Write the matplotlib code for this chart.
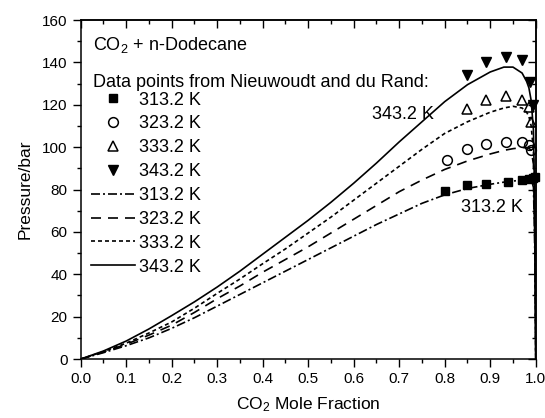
import matplotlib
matplotlib.use("Agg")
import matplotlib.pyplot as plt
from matplotlib.lines import Line2D
from matplotlib.ticker import MultipleLocator, FormatStrFormatter

plt.rcParams['font.family'] = ['Liberation Sans', 'DejaVu Sans']
plt.rcParams['mathtext.fontset'] = 'custom'
plt.rcParams['mathtext.rm'] = 'Liberation Sans'
plt.rcParams['mathtext.default'] = 'regular'

# model curves (CO2 mole fraction vs pressure / bar)
x_model = [0.0, 0.05, 0.1, 0.15, 0.2, 0.25, 0.3, 0.35, 0.4, 0.45, 0.5, 0.55, 0.6, 0.65,
           0.7, 0.75, 0.8, 0.85, 0.9, 0.93, 0.95, 0.97, 0.98, 0.985, 0.99, 0.995, 0.998, 1.0]
p_313 = [0, 3, 6.3, 10, 14.5, 19.5, 25, 30.5, 36, 41.5, 47, 52.5, 58, 63.5,
         68.5, 73.5, 77.5, 80.5, 82.5, 83.5, 84, 84.5, 85, 85, 85, 81, 50, 0]
p_323 = [0, 3.3, 7, 11.3, 16, 22, 28.5, 34.5, 41, 47, 53, 59.5, 66, 72.5,
         79, 84.5, 89.5, 93.5, 96.8, 98.5, 99.3, 99.8, 99.8, 99.5, 98.5, 92, 55, 0]
p_333 = [0, 3.5, 7.5, 12.3, 17.5, 24, 31, 37.8, 45, 52, 59.5, 67, 75, 83,
         91, 99, 106.5, 112, 116.5, 118.5, 119.3, 118.5, 116.5, 114.5, 110, 98, 62, 0]
p_343 = [0, 3.8, 8.5, 14.2, 20.5, 27, 34, 41.5, 49.5, 57.5, 65.5, 74, 83, 92.5,
         102.5, 112, 121.5, 129.5, 135.5, 137.8, 137.8, 135, 131, 128, 122, 108, 70, 0]

# data points from Nieuwoudt and du Rand
x_d313 = [0.80, 0.85, 0.89, 0.94, 0.97, 0.985, 0.993, 0.998]
y_d313 = [79.5, 82, 82.5, 83.5, 84.5, 85, 85.5, 86]
x_d323 = [0.805, 0.85, 0.89, 0.935, 0.97, 0.985, 0.99]
y_d323 = [94, 99, 101.5, 102.5, 102.5, 101, 98.5]
x_d333 = [0.85, 0.89, 0.935, 0.97, 0.985, 0.99]
y_d333 = [118, 122.5, 124, 122.5, 119, 112]
x_d343 = [0.85, 0.89, 0.935, 0.97, 0.988, 0.993]
y_d343 = [134, 140, 142.5, 141, 131, 120]

temps = ['313.2 K', '323.2 K', '333.2 K', '343.2 K']

fig = plt.figure(figsize=(5.45, 4.18), dpi=100)
ax = fig.add_axes([0.148, 0.141, 0.835, 0.811])

lw = 1.2
dash_dot = (5.4, 1.8, 1.2, 1.8)
dashed = (6, 4.2)
dotted = (2.4, 1.8)

l313, = ax.plot(x_model, p_313, color='k', lw=lw, dashes=dash_dot)
l323, = ax.plot(x_model, p_323, color='k', lw=lw, dashes=dashed)
l333, = ax.plot(x_model, p_333, color='k', lw=lw, dashes=dotted)
l343, = ax.plot(x_model, p_343, color='k', lw=lw, ls='-')

ax.plot(x_d313, y_d313, 's', color='k', ms=6, clip_on=False)
ax.plot(x_d323, y_d323, 'o', mfc='none', mec='k', ms=7, mew=1.1, clip_on=False)
ax.plot(x_d333, y_d333, '^', mfc='none', mec='k', ms=7, mew=1.1, clip_on=False)
ax.plot(x_d343, y_d343, 'v', color='k', ms=7, clip_on=False)

h_pts = [
    Line2D([], [], marker='s', ls='none', color='k', ms=6),
    Line2D([], [], marker='o', ls='none', mfc='none', mec='k', ms=7, mew=1.1),
    Line2D([], [], marker='^', ls='none', mfc='none', mec='k', ms=7, mew=1.1),
    Line2D([], [], marker='v', ls='none', color='k', ms=7),
]
handles = h_pts + [l313, l323, l333, l343]
labels = temps + temps
ax.legend(handles, labels, loc='upper left', bbox_to_anchor=(0.0226, 0.789),
          frameon=False, fontsize=13, borderpad=0, borderaxespad=0,
          handlelength=2.45, handletextpad=0.22, labelspacing=0.38, numpoints=1)

ax.text(0.027, 0.926, 'CO$_2$ + n-Dodecane', transform=ax.transAxes,
        fontsize=13, va='center', ha='left')
ax.text(0.027, 0.817, 'Data points from Nieuwoudt and du Rand:', transform=ax.transAxes,
        fontsize=13, va='center', ha='left')
ax.text(0.708, 115.4, '343.2 K', fontsize=13, ha='center', va='center')
ax.text(0.904, 71.4, '313.2 K', fontsize=13, ha='center', va='center')

ax.set_xlim(0, 1.0)
ax.set_ylim(0, 160)
ax.xaxis.set_major_locator(MultipleLocator(0.1))
ax.xaxis.set_minor_locator(MultipleLocator(0.05))
ax.yaxis.set_major_locator(MultipleLocator(20))
ax.yaxis.set_minor_locator(MultipleLocator(10))
ax.xaxis.set_major_formatter(FormatStrFormatter('%.1f'))
ax.tick_params(which='major', direction='out', length=5.8, width=1, labelsize=11)
ax.tick_params(which='minor', direction='out', length=2.9, width=1)

# mirrored ticks on top and right, pointing in
top = ax.secondary_xaxis('top')
top.xaxis.set_major_locator(MultipleLocator(0.1))
top.xaxis.set_minor_locator(MultipleLocator(0.05))
top.tick_params(which='major', direction='in', length=5.8, width=1, labeltop=False)
top.tick_params(which='minor', direction='in', length=2.9, width=1)
right = ax.secondary_yaxis('right')
right.yaxis.set_major_locator(MultipleLocator(20))
right.yaxis.set_minor_locator(MultipleLocator(10))
right.tick_params(which='major', direction='in', length=5.8, width=1, labelright=False)
right.tick_params(which='minor', direction='in', length=2.9, width=1)

for s in ax.spines.values():
    s.set_linewidth(1.1)
top.spines['top'].set_linewidth(1.1)
right.spines['right'].set_linewidth(1.1)

ax.set_xlabel('CO$_2$ Mole Fraction', fontsize=12.5, labelpad=7)
ax.set_ylabel('Pressure/bar', fontsize=12.5, labelpad=7)

fig.savefig('out.png', dpi=100)
